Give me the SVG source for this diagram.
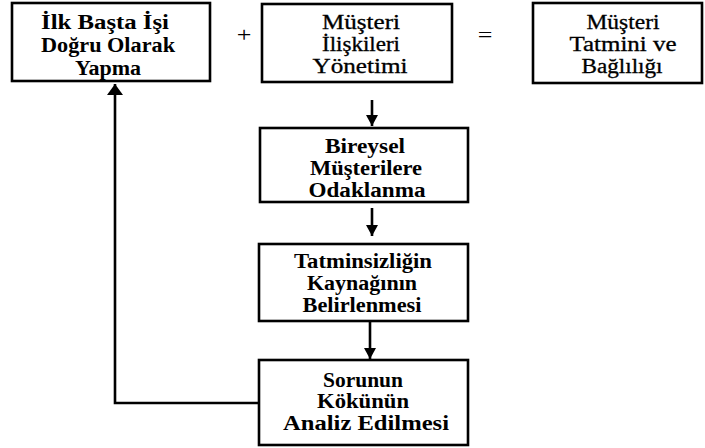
<svg xmlns="http://www.w3.org/2000/svg" width="705" height="448" viewBox="0 0 705 448">
<defs>
<style>
.box{fill:#fff;stroke:#000;stroke-width:2.6}
text{font-family:'Liberation Serif','Times New Roman',Times,'DejaVu Serif',serif}
.t{font-size:20px;fill:#000;text-anchor:middle}
.b{font-weight:bold}
.r{stroke:#000;stroke-width:0.3}
.op{font-size:20px;fill:#000;text-anchor:middle}
.c{fill:none;stroke:#000;stroke-width:2.6}
</style>
<marker id="ah" markerUnits="userSpaceOnUse" markerWidth="14" markerHeight="12" refX="11" refY="6" orient="auto">
<path d="M0,0 L11,6 L0,12 Z" fill="#000"/>
</marker>
<marker id="ah2" markerUnits="userSpaceOnUse" markerWidth="14" markerHeight="16" refX="11" refY="8" orient="auto">
<path d="M0,0 L11,8 L0,16 Z" fill="#000"/>
</marker>
</defs>
<rect width="705" height="448" fill="#fff"/>
<g id="connectors">
<line class="c" x1="372" y1="100" x2="372" y2="126" marker-end="url(#ah)"/>
<line class="c" x1="372" y1="208" x2="372" y2="236" marker-end="url(#ah)"/>
<line class="c" x1="370" y1="322" x2="370" y2="359" marker-end="url(#ah)"/>
<polyline class="c" points="259,403 115,403 115,84" marker-end="url(#ah2)"/>
</g>
<g id="op-plus"><text class="op" x="244" y="42" transform="translate(244 0) scale(1.3 1) translate(-244 0)">+</text></g>
<g id="op-eq"><text class="op" x="485" y="42" transform="translate(485 0) scale(1.3 1) translate(-485 0)">=</text></g>
<g id="n1">
<rect class="box" x="12" y="3" width="198" height="78"/>
<text class="t b" x="105" y="29" textLength="128" lengthAdjust="spacingAndGlyphs">İlk Başta İşi</text>
<text class="t b" x="108" y="52" textLength="134" lengthAdjust="spacingAndGlyphs">Doğru Olarak</text>
<text class="t b" x="108" y="75" textLength="66" lengthAdjust="spacingAndGlyphs">Yapma</text>
</g>
<g id="n2">
<rect class="box" x="262" y="4" width="190" height="78"/>
<text class="t r" x="361" y="29" textLength="78" lengthAdjust="spacingAndGlyphs">Müşteri</text>
<text class="t r" x="361" y="51" textLength="78" lengthAdjust="spacingAndGlyphs">İlişkileri</text>
<text class="t r" x="360" y="73" textLength="95" lengthAdjust="spacingAndGlyphs">Yönetimi</text>
</g>
<g id="n3">
<rect class="box" x="533" y="3" width="169" height="80"/>
<text class="t r" x="623" y="29" textLength="73" lengthAdjust="spacingAndGlyphs">Müşteri</text>
<text class="t r" x="623" y="51" textLength="107" lengthAdjust="spacingAndGlyphs">Tatmini ve</text>
<text class="t r" x="622" y="73" textLength="81" lengthAdjust="spacingAndGlyphs">Bağlılığı</text>
</g>
<g id="n4">
<rect class="box" x="260" y="128" width="208" height="74"/>
<text class="t b" x="365" y="153" textLength="80" lengthAdjust="spacingAndGlyphs">Bireysel</text>
<text class="t b" x="366" y="175" textLength="112" lengthAdjust="spacingAndGlyphs">Müşterilere</text>
<text class="t b" x="367" y="197" textLength="117" lengthAdjust="spacingAndGlyphs">Odaklanma</text>
</g>
<g id="n5">
<rect class="box" x="259" y="244" width="209" height="77"/>
<text class="t b" x="363" y="268" textLength="138" lengthAdjust="spacingAndGlyphs">Tatminsizliğin</text>
<text class="t b" x="362" y="290" textLength="110" lengthAdjust="spacingAndGlyphs">Kaynağının</text>
<text class="t b" x="362" y="312" textLength="119" lengthAdjust="spacingAndGlyphs">Belirlenmesi</text>
</g>
<g id="n6">
<rect class="box" x="259" y="360" width="209" height="85"/>
<text class="t b" x="363" y="387" textLength="80" lengthAdjust="spacingAndGlyphs">Sorunun</text>
<text class="t b" x="363" y="408" textLength="92" lengthAdjust="spacingAndGlyphs">Kökünün</text>
<text class="t b" x="366" y="430" textLength="166" lengthAdjust="spacingAndGlyphs">Analiz Edilmesi</text>
</g>
</svg>
